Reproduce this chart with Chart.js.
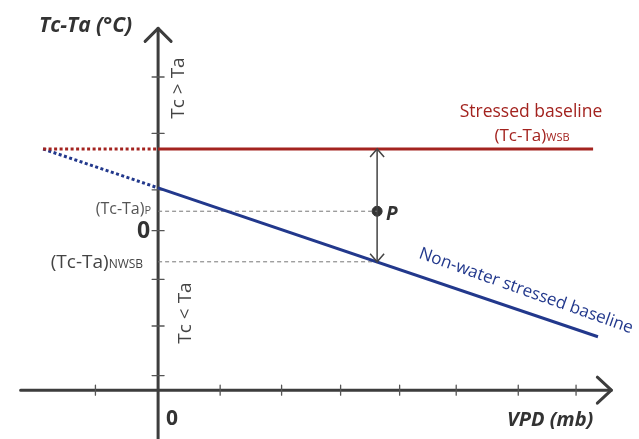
<!DOCTYPE html>
<html>
<head>
<meta charset="utf-8">
<script src="https://cdn.jsdelivr.net/npm/chart.js@4"></script>
<style>
  html, body { margin: 0; padding: 0; background: #fff; }
  #wrap { width: 639px; height: 439px; position: relative; }
</style>
</head>
<body>
<div id="wrap"><canvas id="chart"></canvas></div>
<script>
// 轴刻度 (hand drawn, slightly uneven)
const xTicks = [-1.03, 1.02, 2.03, 3.0, 3.97, 4.9, 5.92, 6.87];
const yTicks = [3.16, 2.0, 0.84, 0, -1.0, -1.96, -2.98];
const xAxisAt = -3.28;          // x axis crosses the y axis here
const xAxisRange = [-2.26, 7.45];
const yAxisRange = [-4.4, 4.16];

// stressed baseline (Tc-Ta)WSB
const wsbX = [-1.89, 0, 7.15];
const wsbY = [1.68, 1.68, 1.68];

// non-water stressed baseline
const nwsbX = [-1.89, 0, 7.23];
const nwsbY = [1.68, 0.88, -2.18];

// point P and its projection
const pX = 3.6;
const pY = 0.4;
const pNwsbY = -0.64;

const red = '#a3231f';
const blue = '#22388c';
const axisColor = '#3d3d3d';

const seg = (xs, ys, a, b) => [{x: xs[a], y: ys[a]}, {x: xs[b], y: ys[b]}];

const datasets = [
    {data: seg(wsbX, wsbY, 0, 1), borderColor: red, borderWidth: 3, borderDash: [3, 2.5]},
    {data: seg(wsbX, wsbY, 1, 2), borderColor: red, borderWidth: 3},
    {data: seg(nwsbX, nwsbY, 0, 1), borderColor: blue, borderWidth: 3, borderDash: [3, 2.5]},
    {data: seg(nwsbX, nwsbY, 1, 2), borderColor: blue, borderWidth: 3},
    {data: [{x: 0, y: pY}, {x: pX, y: pY}], borderColor: '#777', borderWidth: 1, borderDash: [4, 3]},
    {data: [{x: 0, y: pNwsbY}, {x: pX, y: pNwsbY}], borderColor: '#777', borderWidth: 1, borderDash: [4, 3]},
    {data: [{x: pX, y: wsbY[0]}, {x: pX, y: pNwsbY}], borderColor: '#444', borderWidth: 1.5},
    {data: [{x: pX, y: pY}], showLine: false, pointRadius: 5, backgroundColor: '#333', borderColor: '#333'}
].map(d => Object.assign({showLine: true, pointRadius: 0, fill: false}, d));

// 文字标注
function drawParts(ctx, x, y, parts, align) {
    let total = 0;
    parts.forEach(p => { ctx.font = p.font; total += ctx.measureText(p.t).width; });
    let cx = align === 'right' ? x - total : align === 'center' ? x - total / 2 : x;
    parts.forEach(p => {
        ctx.font = p.font;
        ctx.fillText(p.t, cx, y);
        cx += ctx.measureText(p.t).width;
    });
}

const decor = {
    id: 'decor',
    beforeDatasetsDraw(chart) {
        const ctx = chart.ctx;
        const xs = chart.scales.x, ys = chart.scales.y;
        const X = v => xs.getPixelForValue(v), Y = v => ys.getPixelForValue(v);
        ctx.save();
        ctx.strokeStyle = axisColor;
        ctx.lineCap = 'round';
        ctx.lineJoin = 'round';
        // axes
        ctx.lineWidth = 3;
        ctx.beginPath();
        ctx.moveTo(X(xAxisRange[0]), Y(xAxisAt));
        ctx.lineTo(X(xAxisRange[1]), Y(xAxisAt));
        ctx.moveTo(X(0), Y(yAxisRange[0]));
        ctx.lineTo(X(0), Y(yAxisRange[1]));
        ctx.stroke();
        // arrow heads
        ctx.beginPath();
        let tx = X(0), ty = Y(yAxisRange[1]);
        ctx.moveTo(tx - 13, ty + 13); ctx.lineTo(tx, ty); ctx.lineTo(tx + 13, ty + 13);
        tx = X(xAxisRange[1]); ty = Y(xAxisAt);
        ctx.moveTo(tx - 14, ty - 13); ctx.lineTo(tx, ty); ctx.lineTo(tx - 14, ty + 13);
        ctx.stroke();
        // ticks
        ctx.lineWidth = 1.3;
        ctx.strokeStyle = '#555';
        ctx.beginPath();
        xTicks.forEach(v => { ctx.moveTo(X(v), Y(xAxisAt) - 5); ctx.lineTo(X(v), Y(xAxisAt) + 5); });
        yTicks.forEach(v => { ctx.moveTo(X(0) - 6, Y(v)); ctx.lineTo(X(0) + 6, Y(v)); });
        ctx.stroke();
        ctx.restore();
    },
    afterDatasetsDraw(chart) {
        const ctx = chart.ctx;
        const xs = chart.scales.x, ys = chart.scales.y;
        const X = v => xs.getPixelForValue(v), Y = v => ys.getPixelForValue(v);
        const F = "'Open Sans', 'Noto Sans', sans-serif";
        ctx.save();
        // arrow heads of the P measurement
        ctx.strokeStyle = '#444';
        ctx.lineWidth = 1.5;
        ctx.beginPath();
        let ax = X(pX), ay = Y(wsbY[0]);
        ctx.moveTo(ax - 7, ay + 8); ctx.lineTo(ax, ay); ctx.lineTo(ax + 7, ay + 8);
        ay = Y(pNwsbY);
        ctx.moveTo(ax - 7, ay - 8); ctx.lineTo(ax, ay); ctx.lineTo(ax + 7, ay - 8);
        ctx.stroke();

        ctx.textBaseline = 'middle';
        ctx.fillStyle = '#333';
        ctx.font = 'italic bold 21px ' + F;
        ctx.textAlign = 'left';
        ctx.fillText('Tc-Ta (°C)', 39, 26);
        ctx.font = 'italic bold 20px ' + F;
        ctx.textAlign = 'right';
        ctx.fillText('VPD (mb)', X(xAxisRange[1]) - 18, Y(xAxisAt) + 30);
        ctx.font = 'bold 21px ' + F;
        ctx.textAlign = 'left';
        ctx.fillText('0', X(0) + 8, Y(xAxisAt) + 29);
        ctx.font = 'bold 23px ' + F;
        ctx.textAlign = 'right';
        ctx.fillText('0', X(0) - 8, Y(0) + 1);
        ctx.font = 'italic bold 19px ' + F;
        ctx.textAlign = 'left';
        ctx.fillText('P', X(pX) + 9, Y(pY) + 3);

        // subscripted labels
        ctx.textAlign = 'left';
        ctx.textBaseline = 'alphabetic';
        ctx.fillStyle = '#555';
        drawParts(ctx, X(0) - 7, Y(pY) + 3, [
            {t: '(Tc-Ta)', font: '16px ' + F}, {t: 'P', font: '11px ' + F}], 'right');
        ctx.fillStyle = '#444';
        drawParts(ctx, X(0) - 15, Y(pNwsbY) + 6, [
            {t: '(Tc-Ta)', font: '19px ' + F}, {t: 'NWSB', font: '12px ' + F}], 'right');
        ctx.fillStyle = red;
        ctx.font = '17.5px ' + F;
        ctx.textAlign = 'center';
        ctx.fillText('Stressed baseline', 531, Y(wsbY[0]) - 32);
        ctx.textAlign = 'left';
        drawParts(ctx, 532, Y(wsbY[0]) - 8, [
            {t: '(Tc-Ta)', font: '17px ' + F}, {t: 'WSB', font: '11px ' + F}], 'center');

        // rotated texts
        ctx.fillStyle = '#444';
        ctx.font = '19px ' + F;
        ctx.textAlign = 'center';
        ctx.textBaseline = 'middle';
        ctx.save();
        ctx.translate(X(0) + 20, 88);
        ctx.rotate(-Math.PI / 2);
        ctx.fillText('Tc > Ta', 0, 0);
        ctx.restore();
        ctx.save();
        ctx.translate(X(0) + 27, 313);
        ctx.rotate(-Math.PI / 2);
        ctx.fillText('Tc < Ta', 0, 0);
        ctx.restore();

        // label along the non-water stressed baseline
        const x1 = X(nwsbX[1]), y1 = Y(nwsbY[1]), x2 = X(nwsbX[2]), y2 = Y(nwsbY[2]);
        const ang = Math.atan2(y2 - y1, x2 - x1);
        ctx.save();
        ctx.fillStyle = blue;
        ctx.font = '17px ' + F;
        ctx.translate(526, 291);
        ctx.rotate(ang + 0.015);
        ctx.fillText('Non-water stressed baseline', 0, 0);
        ctx.restore();
        ctx.restore();
    }
};

new Chart(document.getElementById('chart'), {
    type: 'scatter',
    data: {datasets},
    options: {
        responsive: true,
        maintainAspectRatio: false,
        animation: false,
        layout: {padding: 0},
        scales: {
            x: {type: 'linear', display: false, min: -2.5, max: 7.806},
            y: {type: 'linear', display: false, min: -4.16, max: 4.62}
        },
        plugins: {legend: {display: false}, tooltip: {enabled: false}}
    },
    plugins: [decor]
});
</script>
</body>
</html>
